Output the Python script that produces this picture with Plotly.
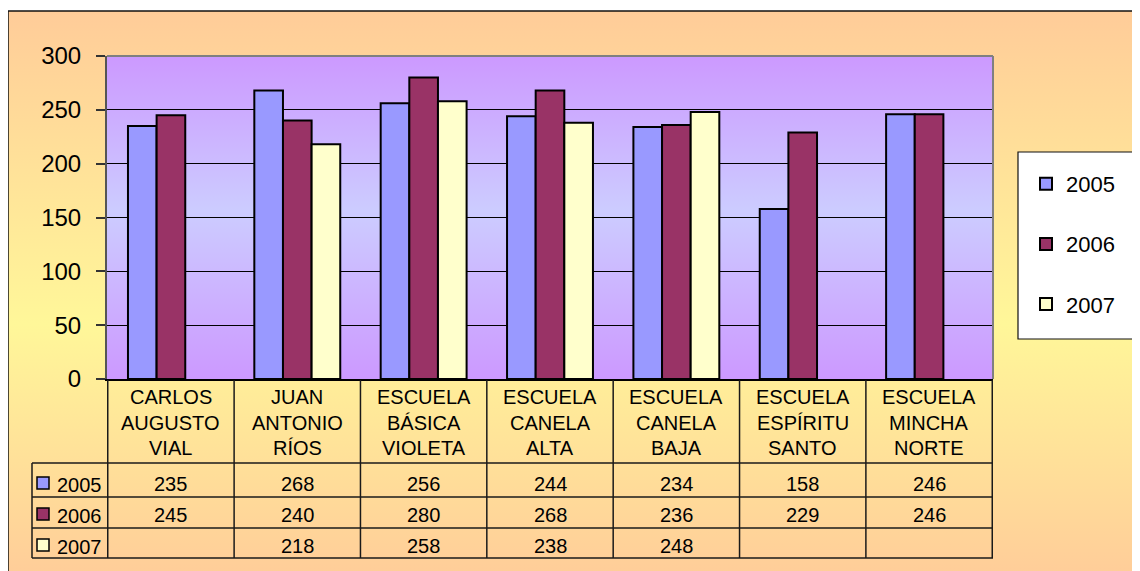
import base64
import plotly.graph_objects as go

# ---------------- data ----------------
categories = ["CARLOS AUGUSTO VIAL", "JUAN ANTONIO RÍOS", "ESCUELA BÁSICA VIOLETA",
              "ESCUELA CANELA ALTA", "ESCUELA CANELA BAJA", "ESCUELA ESPÍRITU SANTO",
              "ESCUELA MINCHA NORTE"]
years = ["2005", "2006", "2007"]
values_2005 = [235, 268, 256, 244, 234, 158, 246]
values_2006 = [245, 240, 280, 268, 236, 229, 246]
values_2007 = [None, 218, 258, 238, 248, None, None]
y_ticks = [0, 50, 100, 150, 200, 250, 300]

series = [values_2005, values_2006, values_2007]
colors = ["#9999FF", "#993366", "#FFFFCC"]
FONT = "Liberation Sans, Arial, sans-serif"

# ---------------- geometry helpers (screen pixel -> paper) ----------------
OFF = 8                       # page body margin
SW, SH = 1140, 571            # window size
W, H = SW - OFF, SH - OFF     # figure size
L, R, T, B = 107, 993, 56, 379  # plot area, screen pixels


def fx(p):
    return (p - L) / (R - L)


def fy(p):
    return (B - p) / (B - T)


def grad_uri(stops, w, h):
    s = "".join(f'<stop offset="{o}" stop-color="{c}"/>' for o, c in stops)
    svg = (f'<svg xmlns="http://www.w3.org/2000/svg" width="{w}" height="{h}" '
           f'viewBox="0 0 {w} {h}" preserveAspectRatio="none">'
           f'<defs><linearGradient id="g" x1="0" y1="0" x2="0" y2="1">{s}</linearGradient></defs>'
           f'<rect width="{w}" height="{h}" fill="url(#g)"/></svg>')
    return "data:image/svg+xml;base64," + base64.b64encode(svg.encode()).decode()


fig = go.Figure()
for name, vals, col in zip(years, series, colors):
    fig.add_trace(go.Bar(
        x=categories, y=vals, name=name, legendgroup=name,
        marker=dict(color=col, line=dict(color="black", width=2)),
    ))

images = [
    dict(source=grad_uri([(0, "#FFCC99"), (0.55, "#FFF799"), (1, "#FFCC99")], 1140, 570),
         xref="paper", yref="paper", x=fx(8), y=fy(11),
         sizex=(1150 - 8) / (R - L), sizey=(580 - 11) / (B - T),
         xanchor="left", yanchor="top", sizing="stretch", layer="below"),
    dict(source=grad_uri([(0, "#CC99FF"), (0.48, "#CCCCFF"), (1, "#CC99FF")], 886, 323),
         xref="paper", yref="paper", x=0, y=1, sizex=1, sizey=1,
         xanchor="left", yanchor="top", sizing="stretch", layer="below"),
]

shapes = []
# outer chart border (top & left visible)
shapes.append(dict(type="line", xref="paper", yref="paper", x0=fx(8), x1=fx(1150),
                   y0=fy(11), y1=fy(11), line=dict(color="#111", width=1.5)))
shapes.append(dict(type="line", xref="paper", yref="paper", x0=fx(8), x1=fx(8),
                   y0=fy(11), y1=fy(580), line=dict(color="#111", width=1.5)))
# plot area border (top & right, gray)
shapes.append(dict(type="line", xref="paper", yref="paper", x0=0, x1=1, y0=1, y1=1,
                   line=dict(color="#808080", width=2)))
shapes.append(dict(type="line", xref="paper", yref="paper", x0=1, x1=1, y0=0, y1=1,
                   line=dict(color="#808080", width=2)))
# legend box
shapes.append(dict(type="rect", xref="paper", yref="paper", x0=fx(1018), x1=fx(1134),
                   y0=fy(152), y1=fy(339), fillcolor="white", line=dict(color="#111", width=1.2)))

# data table grid
tline = dict(color="#1a1a1a", width=1.5)
for i in range(len(categories) + 1):
    shapes.append(dict(type="line", xref="x", yref="paper", x0=i - 0.5, x1=i - 0.5,
                       y0=fy(380), y1=fy(558), line=tline))
shapes.append(dict(type="line", xref="paper", yref="paper", x0=fx(32), x1=fx(32),
                   y0=fy(463), y1=fy(558), line=tline))
for yy in [463, 497, 528, 558]:
    shapes.append(dict(type="line", xref="paper", yref="paper", x0=fx(32), x1=1,
                       y0=fy(yy), y1=fy(yy), line=tline))

row_centers = [484, 515, 546]
annotations = []
# header (category names)
for i, cat in enumerate(categories):
    for j, w in enumerate(cat.split(" ")):
        annotations.append(dict(x=i, y=fy(397 + 25.5 * j), xref="x", yref="paper", text=w,
                                showarrow=False, xanchor="center", yanchor="middle",
                                font=dict(family=FONT, size=20, color="black")))
# table values & row labels
for r, (name, vals, col) in enumerate(zip(years, series, colors)):
    yc = row_centers[r]
    for i, v in enumerate(vals):
        if v is not None:
            annotations.append(dict(x=i, y=fy(yc), xref="x", yref="paper", text=str(v),
                                    showarrow=False, xanchor="center", yanchor="middle",
                                    font=dict(family=FONT, size=20, color="black")))
    annotations.append(dict(x=fx(55), y=fy(yc + 1), xref="paper", yref="paper", text=name,
                            showarrow=False, xanchor="left", yanchor="middle",
                            font=dict(family=FONT, size=20, color="black")))
    shapes.append(dict(type="rect", xref="paper", yref="paper", x0=fx(37), x1=fx(49),
                       y0=fy(yc - 7), y1=fy(yc + 5), fillcolor=col,
                       line=dict(color="black", width=1.5)))

fig.update_layout(
    width=W, height=H, autosize=False,
    margin=dict(l=L - OFF, r=SW - R, t=T - OFF, b=SH - B, pad=0),
    paper_bgcolor="white", plot_bgcolor="rgba(0,0,0,0)",
    barmode="group", bargap=0.32, bargroupgap=0,
    font=dict(family=FONT, color="black"),
    images=images, shapes=shapes, annotations=annotations,
    showlegend=True,
    legend=dict(x=fx(1026), y=fy(163), xanchor="left", yanchor="top",
                bgcolor="rgba(0,0,0,0)", borderwidth=0,
                font=dict(family=FONT, size=22, color="black"),
                traceorder="grouped", tracegroupgap=28.5),
    xaxis=dict(showticklabels=False, showline=True, linecolor="black", linewidth=2,
               ticks="", showgrid=False, zeroline=False, fixedrange=True),
    yaxis=dict(range=[0, 300], tickvals=y_ticks, ticks="outside", ticklen=9,
               tickwidth=1.5, tickcolor="#333", showline=True, linecolor="#555",
               linewidth=2, gridcolor="black", gridwidth=1, zeroline=False,
               tickfont=dict(family=FONT, size=24, color="black"),
               ticklabelstandoff=10, fixedrange=True),
)

fig.write_html("out.html")
